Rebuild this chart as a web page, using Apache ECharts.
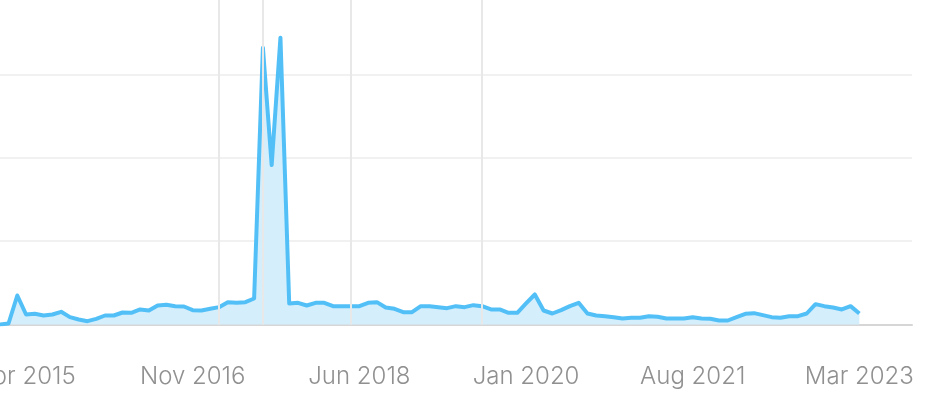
<!DOCTYPE html>
<html>
<head>
<meta charset="utf-8">
<script src="https://cdn.jsdelivr.net/npm/echarts@6/dist/echarts.min.js"></script>
<style>
html,body{margin:0;padding:0;background:#fff;}
#chart{width:930px;height:416px;}
</style>
</head>
<body>
<div id="chart"></div>
<script>
var monthNames = ['Jan','Feb','Mar','Apr','May','Jun','Jul','Aug','Sep','Oct','Nov','Dec'];
var startYear = 2015, endYear = 2023, endMonth = 9; // axis runs Jan 2015 .. Sep 2023
var categories = [];
for (var y = startYear; y <= endYear; y++) {
  for (var m = 0; m < 12; m++) {
    if (y === endYear && m >= endMonth) break;
    categories.push(monthNames[m] + ' ' + y);
  }
}
var values = [
  0, 0.3, 8.7, 3.0, 3.2, 2.7, 3.0, 3.8, 2.2, 1.5, 1.0, 1.7,
  2.7, 2.7, 3.6, 3.5, 4.5, 4.2, 5.7, 5.9, 5.5, 5.4, 4.3, 4.2,
  4.7, 5.2, 6.7, 6.5, 6.7, 7.8, 83, 47.8, 86, 6.3, 6.5, 5.7,
  6.5, 6.5, 5.5, 5.5, 5.5, 5.5, 6.5, 6.7, 5.1, 4.7, 3.7, 3.7,
  5.5, 5.5, 5.2, 4.9, 5.5, 5.2, 5.8, 5.5, 4.5, 4.5, 3.5, 3.5,
  6.3, 9.0, 4.2, 3.3, 4.3, 5.5, 6.5, 3.3, 2.7, 2.5, 2.2, 1.8,
  2.0, 2.0, 2.5, 2.3, 1.8, 1.8, 1.8, 2.2, 1.8, 1.7, 1.2, 1.2,
  2.2, 3.2, 3.4, 2.8, 2.2, 2.0, 2.5, 2.5, 3.3, 6.1, 5.5, 5.1,
  4.5, 5.5, 3.3
];
var tickLabels = ['Apr 2015','Nov 2016','Jun 2018','Jan 2020','Aug 2021','Mar 2023'];
var eventMonths = ['Feb 2017','Jul 2017','May 2018','Aug 2019'];

var chart = echarts.init(document.getElementById('chart'), null, {renderer:'canvas'});
chart.setOption({
  animation: false,
  grid: { left: -0.25, right: 18, top: -9, bottom: 91.5, containLabel: false, outerBoundsMode: 'none' },
  xAxis: {
    type: 'category',
    data: categories,
    boundaryGap: false,
    axisLine: { show: true, lineStyle: { color: '#d6d6d6', width: 2 } },
    axisTick: { show: false },
    splitLine: { show: false },
    axisLabel: {
      interval: function (i, v) { return tickLabels.indexOf(v) >= 0; },
      color: '#909090',
      fontFamily: 'Inter',
      fontWeight: 300,
      fontSize: 24,
      margin: 40
    }
  },
  yAxis: {
    type: 'value',
    min: 0, max: 100, interval: 25,
    axisLine: { show: false },
    axisTick: { show: false },
    axisLabel: { show: false },
    splitLine: { lineStyle: { color: '#f1f1f1', width: 2 } }
  },
  series: [{
    type: 'line',
    data: values,
    showSymbol: false,
    symbol: 'none',
    lineStyle: { color: '#52c0f7', width: 4, join: 'round' },
    areaStyle: { color: '#d5eefc', opacity: 1 },
    markLine: {
      silent: true,
      symbol: ['none','none'],
      label: { show: false },
      lineStyle: { color: '#e8e8e8', width: 2, type: 'solid' },
      data: eventMonths.map(function (m) { return { xAxis: m }; })
    }
  }]
});
</script>
</body>
</html>
